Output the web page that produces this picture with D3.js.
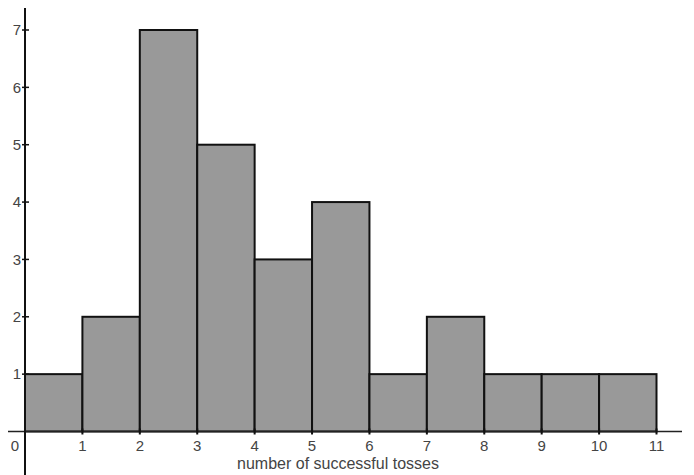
<!DOCTYPE html>
<html>
<head>
<meta charset="utf-8">
<script src="https://cdn.jsdelivr.net/npm/d3@7"></script>
<style>
  body { margin: 0; background: #fff; }
  svg text { font-family: "Liberation Sans", Arial, sans-serif; fill: #444; }
</style>
</head>
<body>
<div id="chart"></div>
<script>
// histogram bins [x0, x1) and counts
const binStarts = [0, 1, 2, 3, 4, 5, 6, 7, 8, 9, 10];
const counts = [1, 2, 7, 5, 3, 4, 1, 2, 1, 1, 1];
const xTicks = [0, 1, 2, 3, 4, 5, 6, 7, 8, 9, 10, 11];
const yTicks = [1, 2, 3, 4, 5, 6, 7];
const xLabel = 'number of successful tosses';

const w = 694;
const h = 475;

const svg = d3.select('#chart')
  .append('svg')
  .attr('width', w)
  .attr('height', h);

const xScale = d3.scaleLinear()
  .domain([0, 11])
  .range([25, 656.5]);
const yScale = d3.scaleLinear()
  .domain([0, 7])
  .range([431.5, 30]);

const bins = binStarts.map((x0, i) => ({ x0: x0, x1: x0 + 1, n: counts[i] }));

svg.selectAll('rect.bar')
  .data(bins)
  .enter()
  .append('rect')
  .attr('class', 'bar')
  .attr('x', d => xScale(d.x0))
  .attr('y', d => yScale(d.n))
  .attr('width', d => xScale(d.x1) - xScale(d.x0))
  .attr('height', d => yScale(0) - yScale(d.n))
  .attr('fill', '#999999')
  .attr('stroke', '#111')
  .attr('stroke-width', 2);

// x axis
const xAxis = svg.append('g')
  .attr('transform', 'translate(0,' + yScale(0) + ')');
xAxis.append('line')
  .attr('x1', 8).attr('x2', 682)
  .attr('stroke', '#222').attr('stroke-width', 1.5);
xAxis.selectAll('line.tick')
  .data(xTicks.slice(1))
  .enter()
  .append('line')
  .attr('class', 'tick')
  .attr('x1', d => xScale(d)).attr('x2', d => xScale(d))
  .attr('y1', -3).attr('y2', 3)
  .attr('stroke', '#111').attr('stroke-width', 2);
xAxis.selectAll('text')
  .data(xTicks)
  .enter()
  .append('text')
  .attr('x', d => d === 0 ? xScale(d) - 10 : xScale(d))
  .attr('y', 19)
  .attr('text-anchor', 'middle')
  .attr('font-size', 15)
  .text(d => d);

// y axis
const yAxis = svg.append('g')
  .attr('transform', 'translate(' + xScale(0) + ',0)');
yAxis.append('line')
  .attr('y1', 8).attr('y2', h)
  .attr('stroke', '#111').attr('stroke-width', 2);
yAxis.selectAll('line.tick')
  .data(yTicks)
  .enter()
  .append('line')
  .attr('class', 'tick')
  .attr('x1', -3).attr('x2', 4)
  .attr('y1', d => yScale(d)).attr('y2', d => yScale(d))
  .attr('stroke', '#111').attr('stroke-width', 1.5);
yAxis.selectAll('text')
  .data(yTicks)
  .enter()
  .append('text')
  .attr('x', -4)
  .attr('y', d => yScale(d))
  .attr('dy', '0.35em')
  .attr('text-anchor', 'end')
  .attr('font-size', 15)
  .text(d => d);

svg.append('text')
  .attr('x', 338)
  .attr('y', 469)
  .attr('text-anchor', 'middle')
  .attr('font-size', 16)
  .text(xLabel);
</script>
</body>
</html>
